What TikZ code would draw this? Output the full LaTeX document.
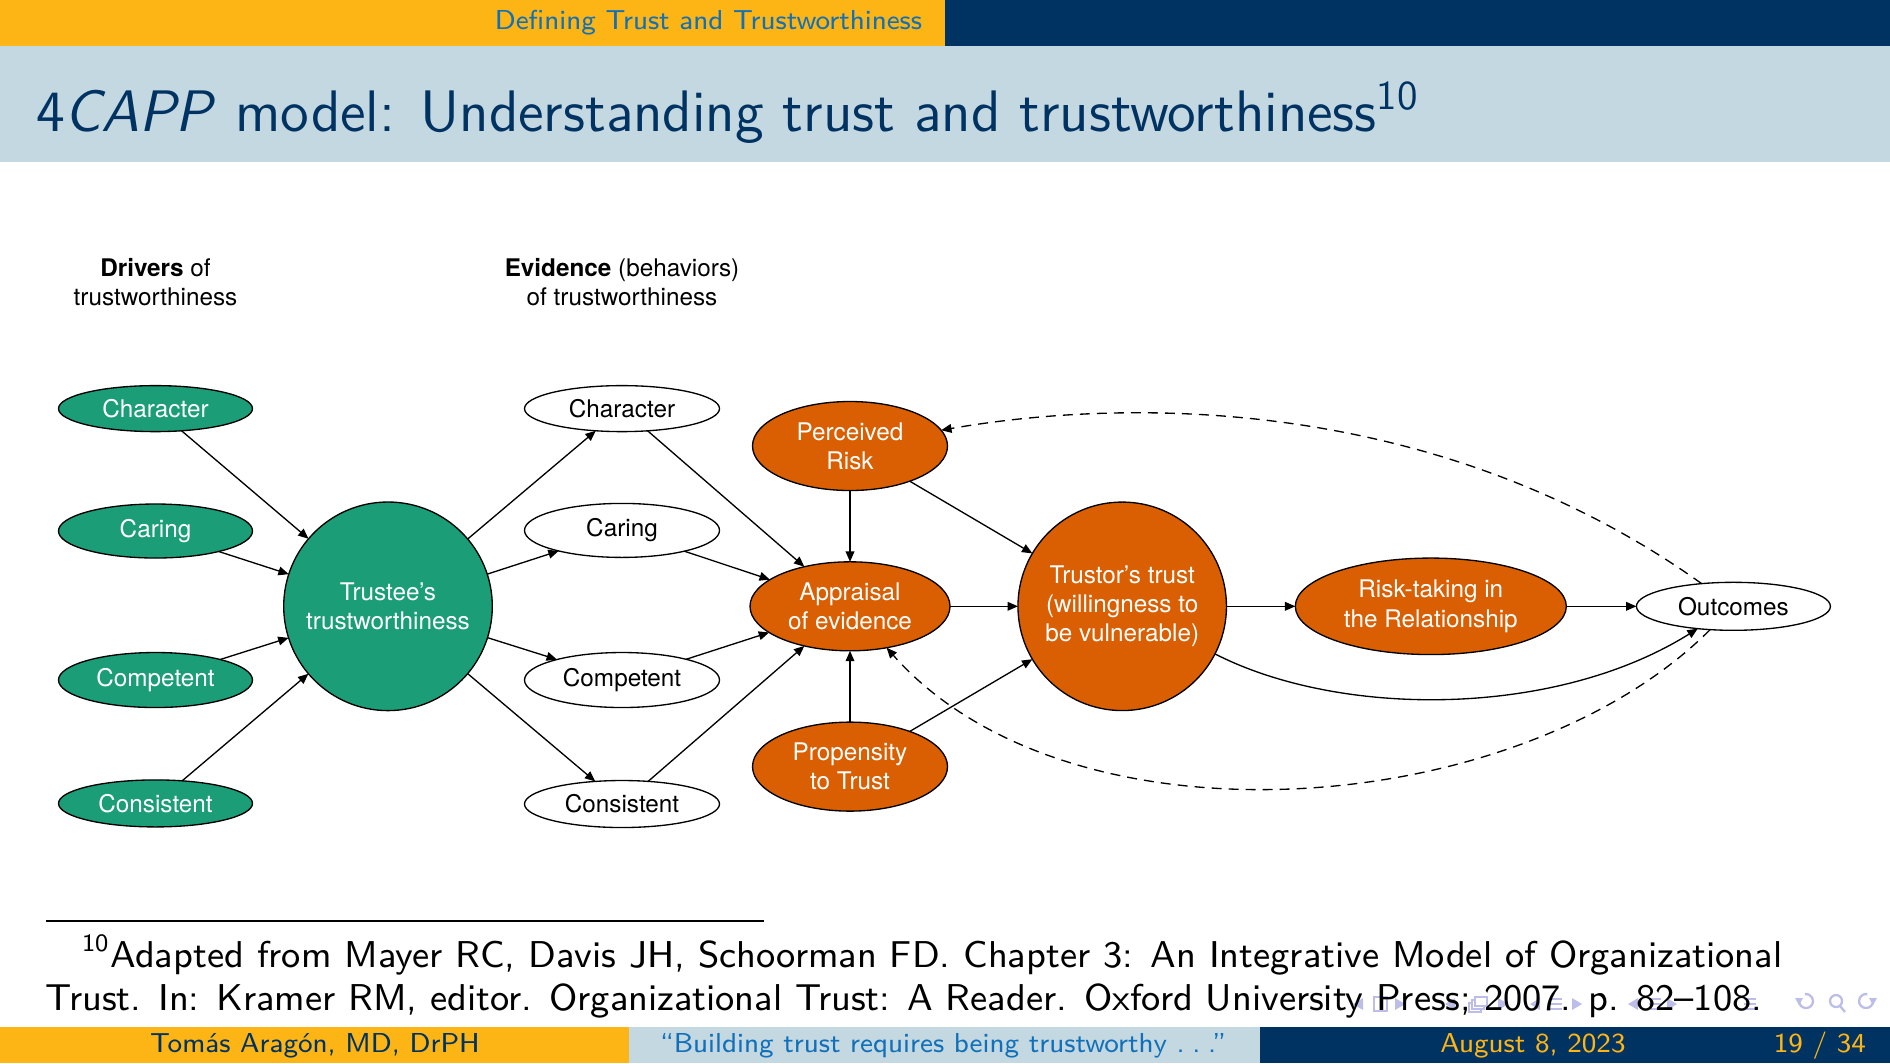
\documentclass[tikz,border=0pt]{standalone}
\usepackage{fontspec}
\usetikzlibrary{arrows.meta,shapes.geometric}
\newfontfamily\helv{TeX Gyre Heros}
\newcommand\diagfont{\helv\fontsize{5.85pt}{7pt}\selectfont}
\newcommand\barfont{\sffamily\fontsize{6.6pt}{8pt}\selectfont}
\newcommand\ftitlefont{\sffamily\fontsize{14.1pt}{17pt}\selectfont}
\newcommand\notefont{\sffamily\fontsize{9pt}{11pt}\selectfont}
\newcommand\spaceddots{.\kern.28em.\kern.28em.}
\definecolor{ucgold}{HTML}{FDB515}
\definecolor{ucnavy}{HTML}{003262}
\definecolor{bandblue}{HTML}{C4D8E2}
\definecolor{linkblue}{HTML}{1170B8}
\definecolor{dteal}{HTML}{1B9E77}
\definecolor{dorange}{HTML}{D95F02}
\definecolor{navcol}{HTML}{BDBDEA}
\begin{document}
\begin{tikzpicture}[x=0.24086pt, y=-0.24086pt,
  every node/.style={inner sep=0pt, outer sep=0pt},
  bubble/.style={ellipse, draw=black, line width=0.32pt},
  sz/.style 2 args={minimum width=#1*0.24086pt, minimum height=#2*0.24086pt},
  drv/.style={bubble, fill=dteal},
  org/.style={bubble, fill=dorange},
  wht/.style={bubble, fill=white},
  intxt/.style={label={[font=\diagfont, align=center, text=white]center:{#1}}},
  blktxt/.style={label={[font=\diagfont, align=center, text=black]center:{#1}}},
  link/.style={line width=0.32pt, -{Triangle[length=2.5pt, width=2.1pt]}},
  fb/.style={link, dash pattern=on 2.4pt off 1.7pt},
  navline/.style={navcol, line width=0.55pt}]
\useasboundingbox (0,0) rectangle (1890,1063);

% ---------- slide frame: head line, title band, foot line ----------
\fill[ucgold] (0,0) rectangle (945,46);
\fill[ucnavy] (945,0) rectangle (1890,46);
\fill[bandblue] (0,46) rectangle (1890,161.5);
\node[anchor=base east, font=\barfont, text=linkblue] (section) at (922,29.5)
  {Defining Trust and Trustworthiness};
\node[anchor=base west, font=\ftitlefont, text=ucnavy] (ftitle) at (36,131.5)
  {4\textit{CAPP} model: Understanding trust and trustworthiness\textsuperscript{10}};

\fill[ucgold] (0,1027) rectangle (629,1063);
\fill[bandblue] (629,1027) rectangle (1260,1063);
\fill[ucnavy] (1260,1027) rectangle (1890,1063);
\node[anchor=base, font=\barfont, text=ucnavy] (author) at (315,1052) {Tomás Aragón, MD, DrPH};
\node[anchor=base, font=\barfont, text=linkblue] (talk) at (943,1052)
  {“Building trust requires being trustworthy \spaceddots”};
\node[anchor=base, font=\barfont, text=ucgold] (date) at (1533,1052) {August 8, 2023};
\node[anchor=base east, font=\barfont, text=ucgold] (pages) at (1866,1052) {19 / 34};

% ---------- navigation symbols ----------
\foreach \x in {1358,1450,1535,1633}
  \fill[navcol] (\x-5,1004) -- (\x+5,998) -- (\x+5,1010) -- cycle;
\foreach \x in {1400,1503,1577,1672}
  \fill[navcol] (\x+5,1004) -- (\x-5,998) -- (\x-5,1010) -- cycle;
\draw[navline] (1374,997) rectangle (1387,1011);
\foreach \d in {0,3,6}
  \draw[navline, fill=white] (1469+\d,1003-\d) rectangle (1481+\d,1012-\d);
\foreach \x in {1556,1655,1750}
  \foreach \dy in {-5,0,5}
    \draw[navline] (\x-6,1004+\dy) -- (\x+6,1004+\dy);
\draw[navline] (1799,1001) arc[start angle=180, end angle=-100, radius=7];
\fill[navcol] (1795,998) -- (1803,998) -- (1799,1005) -- cycle;
\draw[navline] (1836,1001) circle[radius=6];
\draw[navline] (1840,1006) -- (1845,1012);
\draw[navline] (1873,1001) arc[start angle=0, end angle=280, radius=7];
\fill[navcol] (1869,998) -- (1877,998) -- (1873,1005) -- cycle;

% ---------- footnote ----------
\draw[line width=0.45pt] (46,921) -- (764,921);
\node[anchor=base west, font=\notefont] (note1) at (82,967)
  {\makebox[409.5pt][s]{\textsuperscript{10}Adapted from Mayer RC, Davis JH, Schoorman FD. Chapter 3: An Integrative Model of Organizational}};
\node[anchor=base west, font=\notefont] (note2) at (46,1010)
  {Trust. In: Kramer RM, editor. Organizational Trust: A Reader. Oxford University Press; 2007. p. 82--108.};

% ---------- column headings ----------
\node[font=\diagfont, align=center] (hdrivers) at (155.5,282) {\textbf{Drivers} of\\trustworthiness};
\node[font=\diagfont, align=center] (hevidence) at (622,282) {\textbf{Evidence} (behaviors)\\of trustworthiness};

% ---------- drivers of trustworthiness ----------
\node[drv, sz={194}{46}, intxt=Character]  (gChar) at (155.5,408.6) {};
\node[drv, sz={194}{54}, intxt=Caring]     (gCar)  at (155.5,531) {};
\node[drv, sz={194}{55}, intxt=Competent]  (gComp) at (155.5,680) {};
\node[drv, sz={194}{47}, intxt=Consistent] (gCons) at (155.5,803.4) {};
\node[drv, sz={208.6}{208.6}, intxt={Trustee’s\\trustworthiness}] (trustee) at (388,606.3) {};

% ---------- evidence of trustworthiness ----------
\node[wht, sz={195}{46}, blktxt=Character]  (wChar) at (622,408.6) {};
\node[wht, sz={195}{54}, blktxt=Caring]     (wCar)  at (622,530.4) {};
\node[wht, sz={195}{55}, blktxt=Competent]  (wComp) at (622,680) {};
\node[wht, sz={195}{47}, blktxt=Consistent] (wCons) at (622,804) {};

% ---------- trustor side ----------
\node[org, sz={195}{89}, intxt={Perceived\\Risk}]           (risk)    at (850,446) {};
\node[org, sz={200}{89}, intxt={Appraisal\\of evidence}]    (apprais) at (850,606.3) {};
\node[org, sz={195}{89}, intxt={Propensity\\to Trust}]      (prop)    at (850,766.6) {};
\node[org, sz={208.5}{208.5}, intxt={Trustor’s trust\\(willingness to\\be vulnerable)}] (trustor) at (1122.2,606.3) {};
\node[org, sz={271}{96.5}, intxt={Risk-taking in\\the Relationship}] (risktake) at (1430.8,606.3) {};
\node[wht, sz={194}{48}, blktxt=Outcomes] (outcomes) at (1733.4,606.3) {};

% ---------- connectors ----------
\foreach \s in {gChar,gCar,gComp,gCons} \draw[link] (\s) -- (trustee);
\foreach \t in {wChar,wCar,wComp,wCons} \draw[link] (trustee) -- (\t);
\foreach \s in {wChar,wCar,wComp,wCons} \draw[link] (\s) -- (apprais);
\draw[link] (risk) -- (apprais);
\draw[link] (prop) -- (apprais);
\draw[link] (risk) -- (trustor);
\draw[link] (prop) -- (trustor);
\draw[link] (apprais) -- (trustor);
\draw[link] (trustor) -- (risktake);
\draw[link] (risktake) -- (outcomes);
\draw[link] (trustor) .. controls (1340,718) and (1555,718) .. (outcomes);
\draw[fb] (outcomes) .. controls (1450,404) and (1150,394) .. (risk);
\draw[fb] (outcomes) .. controls (1520,820) and (1070,855) .. (apprais);
\end{tikzpicture}
\end{document}
